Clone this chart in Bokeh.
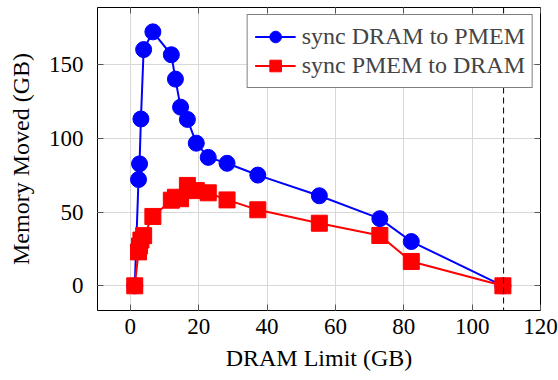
from bokeh.plotting import figure
from bokeh.models import Span, LinearAxis, Range1d, FixedTicker
from bokeh.embed import file_html
from bokeh.resources import INLINE

# DRAM limit (GB) for each run
dram_limit = [1.3, 2.4, 2.7, 3.1, 3.9, 6.6, 12.0, 13.2, 14.7, 16.7, 19.3, 22.8, 28.3, 37.3, 55.3, 73.0, 82.2, 109.0]
# Memory moved (GB)
dram_to_pmem = [0, 72, 82.6, 113, 160, 172, 156.5, 140, 121, 112.7, 96.6, 87, 83, 75, 61, 45.5, 30, 0]
pmem_to_dram = [0, 23, 27, 31, 34, 47, 58, 60, 59, 68, 64.5, 63, 58.2, 51.5, 42.4, 34.1, 16.5, 0]
total_memory = 109.2

x_ticks = [0, 20, 40, 60, 80, 100, 120]
y_ticks = [0, 50, 100, 150]

FONT = "Liberation Serif"
FS = "24px"

p = figure(width=558, height=380, output_backend="svg", toolbar_location=None,
           x_range=Range1d(-9.6, 120), y_range=Range1d(-16.7, 188.5),
           min_border_left=97, min_border_right=18, min_border_top=7, min_border_bottom=70)

p.outline_line_color = "black"
p.outline_line_width = 1
p.background_fill_color = "white"

p.grid.grid_line_color = "#d8d8d8"
p.grid.grid_line_width = 1
p.xgrid.ticker = FixedTicker(ticks=x_ticks)
p.ygrid.ticker = FixedTicker(ticks=y_ticks)

for ax in (p.xaxis[0], p.yaxis[0]):
    ax.axis_line_color = None
    ax.major_tick_in = 6
    ax.major_tick_out = 0
    ax.major_tick_line_color = "#555555"
    ax.minor_tick_line_color = None
    ax.major_label_text_font = FONT
    ax.major_label_text_font_size = "23px"
    ax.major_label_text_color = "black"
    ax.axis_label_text_font = FONT
    ax.axis_label_text_font_size = FS
    ax.axis_label_text_font_style = "normal"
    ax.axis_label_text_color = "black"

p.xaxis.ticker = FixedTicker(ticks=x_ticks)
p.yaxis.ticker = FixedTicker(ticks=y_ticks)
p.xaxis.axis_label = "DRAM Limit (GB)"
p.yaxis.axis_label = "Memory Moved (GB)"
p.xaxis.major_label_standoff = 8
p.yaxis.major_label_standoff = 14
p.xaxis.axis_label_standoff = 8
p.yaxis.axis_label_standoff = 12

# tick marks on the opposite sides of the box
for side, ticks in (("right", y_ticks), ("above", x_ticks)):
    ax = LinearAxis(ticker=FixedTicker(ticks=ticks),
                    major_label_overrides={t: "" for t in ticks})
    ax.axis_line_color = None
    ax.major_tick_in = 6
    ax.major_tick_out = 0
    ax.major_tick_line_color = "#555555"
    ax.minor_tick_line_color = None
    ax.major_label_text_font_size = "1px"
    ax.major_label_standoff = 0
    p.add_layout(ax, side)

p.add_layout(Span(location=total_memory, dimension="height", line_color="black",
                  line_width=1, line_dash="6 4"))

p.line(dram_limit, dram_to_pmem, line_color="#0000ff", line_width=2,
       legend_label="sync DRAM to PMEM")
p.scatter(dram_limit, dram_to_pmem, marker="circle", size=16,
          fill_color="#0000ff", line_color="#0000ff", legend_label="sync DRAM to PMEM")

p.line(dram_limit, pmem_to_dram, line_color="#ff0000", line_width=2,
       legend_label="sync PMEM to DRAM")
p.scatter(dram_limit, pmem_to_dram, marker="square", size=16,
          fill_color="#ff0000", line_color="#ff0000", legend_label="sync PMEM to DRAM")

lg = p.legend[0]
lg.location = "top_right"
lg.margin = 7
lg.border_line_color = "black"
lg.border_line_width = 1
lg.background_fill_alpha = 1
lg.label_text_font = FONT
lg.label_text_font_size = FS
lg.label_height = 29
lg.glyph_height = 29
lg.glyph_width = 41
lg.label_standoff = 6
lg.spacing = 0
lg.padding = 7

open("out.html", "w").write(file_html(p, INLINE))
